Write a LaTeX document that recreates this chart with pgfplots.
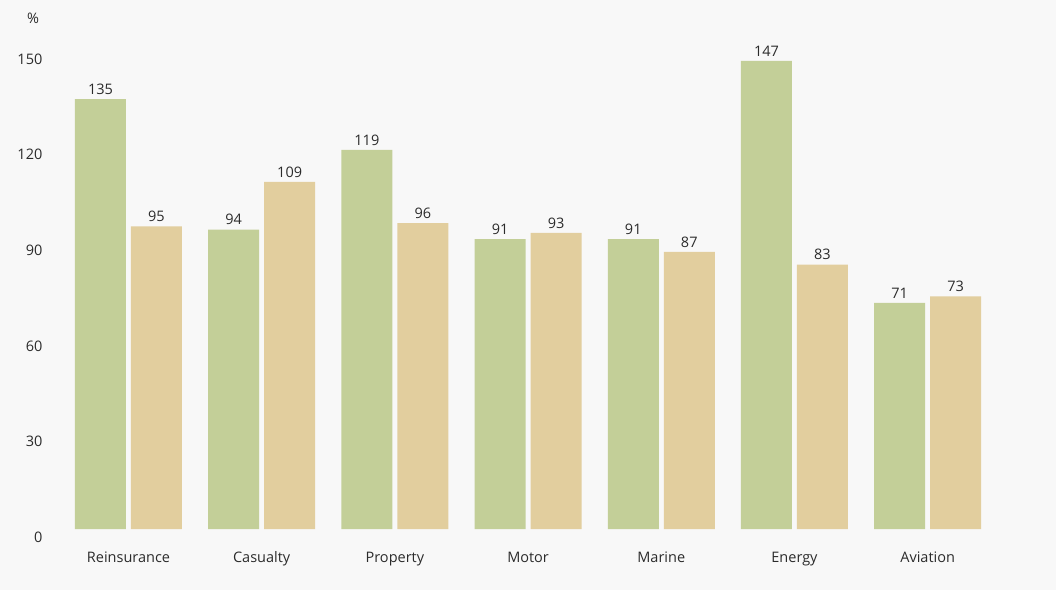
\documentclass[border=0pt]{standalone}
\usepackage{pgfplots}
\pgfplotsset{compat=1.18}
\usepackage{fontspec}
\setmainfont{Open Sans}
\definecolor{bgc}{HTML}{F8F8F8}
\definecolor{greenbar}{HTML}{C3CF98}
\definecolor{tanbar}{HTML}{E2CE9E}
\definecolor{txt}{HTML}{2B2B2B}
\begin{document}
\begin{tikzpicture}
% canvas
\useasboundingbox (0pt,0pt) rectangle (1056pt,590pt);
\fill[bgc] (0pt,0pt) rectangle (1056pt,590pt);
\node[text=txt, font=\fontsize{14.5}{16}\selectfont] at (33pt,572pt) {\%};
\begin{axis}[
  at={(45.9pt,61pt)}, anchor=south west,
  scale only axis,
  width=975pt, height=509.6pt,
  xmin=-0.62, xmax=6.7,
  ymin=0, ymax=160,
  ybar=5pt, bar width=51pt,
  axis line style={draw=none},
  tick style={draw=none},
  xtick={0,...,6},
  xticklabels={Reinsurance,Casualty,Property,Motor,Marine,Energy,Aviation},
  ytick={0,30,60,90,120,150},
  yticklabel style={yshift=-8pt},
  xticklabel style={yshift=-15pt},
  ticklabel style={text=txt, font=\fontsize{14.5}{16}\selectfont},
  /pgf/number format/assume math mode=true,
  nodes near coords,
  every node near coord/.append style={text=txt, font=\fontsize{14.5}{16}\selectfont, yshift=1pt},
  clip=false,
]
\addplot[fill=greenbar, draw=none] coordinates {(0,135) (1,94) (2,119) (3,91) (4,91) (5,147) (6,71)};
\addplot[fill=tanbar, draw=none] coordinates {(0,95) (1,109) (2,96) (3,93) (4,87) (5,83) (6,73)};
\end{axis}
\end{tikzpicture}
\end{document}
